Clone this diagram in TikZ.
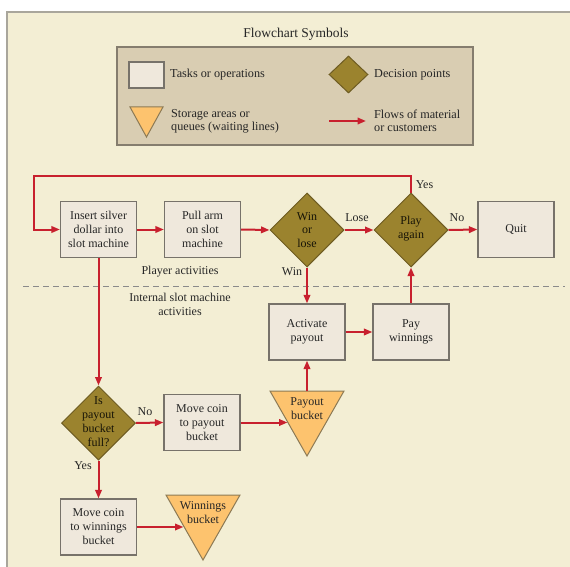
\documentclass[tikz,border=0pt]{standalone}
\usepackage{fontspec}
\setmainfont{Liberation Serif}
\usetikzlibrary{shapes.geometric,arrows.meta,calc}

\definecolor{panelbg}{HTML}{F3EED4}
\definecolor{panelline}{HTML}{A9A69C}
\definecolor{legendfill}{HTML}{D9CDB2}
\definecolor{legendline}{HTML}{857D6E}
\definecolor{taskfill}{HTML}{EFE8DC}
\definecolor{boxline}{HTML}{77726A}
\definecolor{decfill}{HTML}{9B832E}
\definecolor{decline}{HTML}{6E5C22}
\definecolor{storefill}{HTML}{FDC36E}
\definecolor{storeline}{HTML}{8C7A55}
\definecolor{flowred}{HTML}{C8202E}
\definecolor{inkc}{HTML}{262626}
\definecolor{dashc}{HTML}{8A8A8A}

\begin{document}
\begin{tikzpicture}[x=1pt,y=-1pt,
  font=\fontsize{12}{14}\selectfont, text=inkc,
  task/.style={draw=boxline, line width=1.2pt, fill=taskfill,
    minimum width=76pt, minimum height=56pt, inner sep=0pt, align=center},
  decision/.style={diamond, draw=decline, line width=1pt, fill=decfill,
    minimum width=74pt, minimum height=74pt, inner sep=0pt},
  dtext/.style={align=center, text=black!85!decfill,
    font=\fontsize{12}{13.5}\selectfont},
  storage/.style={draw=storeline, line width=1pt, fill=storefill},
  flow/.style={draw=flowred, line width=2pt,
    -{Triangle[length=8.5pt,width=6.5pt]}},
  lbl/.style={inner sep=0pt},
  legtext/.style={anchor=west, align=left, inner sep=0pt,
    font=\fontsize{12.2}{13.5}\selectfont},
]
\useasboundingbox (0,0) rectangle (570,567);
\fill[white] (0,0) rectangle (570,567);

% background panel
\fill[panelbg] (7,12) rectangle (570,567);
\draw[panelline, line width=1.6pt] (7,567) -- (7,12) -- (570,12);

% legend
\node[font=\fontsize{13.5}{16}\selectfont, lbl] (title) at (296,34) {Flowchart Symbols};
\node[draw=legendline, line width=1.2pt, fill=legendfill,
  minimum width=356pt, minimum height=98pt, inner sep=0pt] (legend) at (295,96) {};
\node[task, minimum width=35pt, minimum height=26pt] (lgtask) at (146.5,75) {};
\node[legtext] (lgtasktxt) at (170,75) {Tasks or operations};
\node[decision, minimum width=39pt, minimum height=37pt] (lgdec) at (348.5,74.5) {};
\node[legtext] (lgdectxt) at (374,75) {Decision points};
\coordinate (lgS1) at (130,107);
\coordinate (lgS2) at (163,107);
\coordinate (lgS3) at (146.5,137);
\draw[storage] (lgS1) -- (lgS2) -- (lgS3) -- cycle;
\node[legtext] (lgstoretxt) at (171,121.5) {Storage areas or\\queues (waiting lines)};
\coordinate (lgA) at (329,121);
\coordinate (lgB) at (366,121);
\draw[flow] (lgA) -- (lgB);
\node[legtext] (lgflowtxt) at (374,121) {Flows of material\\or customers};

% player activities
\node[task] (insert) at (98.5,229.5) {Insert silver\\dollar into\\slot machine};
\node[task] (pull) at (202.5,229.5) {Pull arm\\on slot\\machine};
\node[decision] (winlose) at (307,230) {};
\node[dtext] (winlosetxt) at (winlose) {Win\\or\\lose};
\node[decision] (again) at (411,230) {};
\node[dtext] (againtxt) at (411,228.5) {Play\\again};
\node[task] (quit) at (516,229.5) {Quit};

\node[lbl] (playerlbl) at (180,272) {Player activities};
\coordinate (dashL) at (23,286.5);
\coordinate (dashR) at (565,286.5);
\draw[dashc, line width=0.9pt, dash pattern=on 6pt off 4pt] (dashL) -- (dashR);
\node[lbl, align=center] (internallbl) at (180,304.5) {Internal slot machine\\activities};

% internal activities
\node[task] (activate) at (307,332) {Activate\\payout};
\node[task] (pay) at (411,332) {Pay\\winnings};
\node[decision] (full) at (98.5,423) {};
\node[dtext, font=\fontsize{12}{14}\selectfont] (fulltxt) at (98.5,421.5) {Is\\payout\\bucket\\full?};
\node[task] (topayout) at (202,422.5) {Move coin\\to payout\\bucket};
\node[task] (towin) at (98.5,527) {Move coin\\to winnings\\bucket};

% storage triangles
\coordinate (pbTL) at (270,391);
\coordinate (pbTR) at (344,391);
\coordinate (pbApex) at (307,456);
\coordinate (pbTop) at (307,391);
\draw[storage] (pbTL) -- (pbTR) -- (pbApex) -- cycle;
\node[dtext, text=inkc] (pbtxt) at (307,408.5) {Payout\\bucket};
\coordinate (pbIn) at (287.5,422.5);

\coordinate (wbTL) at (166,495);
\coordinate (wbTR) at (240,495);
\coordinate (wbApex) at (203,560);
\draw[storage] (wbTL) -- (wbTR) -- (wbApex) -- cycle;
\node[dtext, text=inkc] (wbtxt) at (203,512.5) {Winnings\\bucket};
\coordinate (wbIn) at (183.5,527);

% flows
\coordinate (loopR) at (411,176);
\coordinate (loopL) at (34,176);
\coordinate (loopD) at (34,229.5);
\draw[flow] (again.north) -- (loopR) -- (loopL) -- (loopD) -- (insert.west);
\draw[flow] (insert.east) -- (pull.west);
\draw[flow] (pull.east) -- (winlose.west);
\draw[flow] (winlose.east) -- (again.west);
\draw[flow] (again.east) -- (quit.west);
\draw[flow] (winlose.south) -- (activate.north);
\draw[flow] (activate.east) -- (pay.west);
\draw[flow] (pay.north) -- (again.south);
\draw[flow] (insert.south) -- (full.north);
\draw[flow] (full.east) -- (topayout.west);
\draw[flow] (topayout.east) -- (pbIn);
\draw[flow] (pbTop) -- (activate.south);
\draw[flow] (full.south) -- (towin.north);
\draw[flow] (towin.east) -- (wbIn);

% branch labels
\node[lbl] (loselbl) at (357,218) {Lose};
\node[lbl] (nolbl) at (457,218) {No};
\node[lbl] (yeslbl) at (424.5,185) {Yes};
\node[lbl] (winlbl) at (292,272) {Win};
\node[lbl] (nofull) at (145,412) {No};
\node[lbl] (yesfull) at (83,466) {Yes};
\end{tikzpicture}
\end{document}
